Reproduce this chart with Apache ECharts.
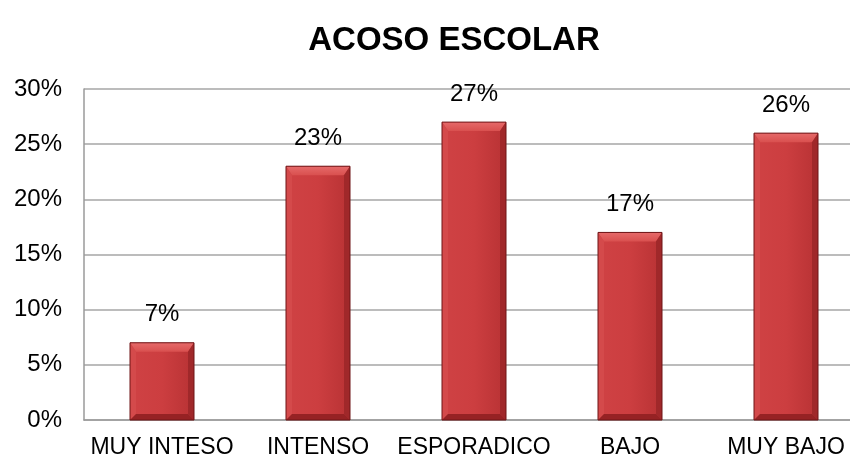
<!DOCTYPE html>
<html><head><meta charset="utf-8">
<script src="https://cdn.jsdelivr.net/npm/echarts@6/dist/echarts.min.js"></script>
<style>html,body{margin:0;padding:0;background:#fff;overflow:hidden;width:850px;height:464px}#c{width:880px;height:464px}</style>
</head><body><div id="c"></div>
<script>
const categories = ["MUY INTESO", "INTENSO", "ESPORADICO", "BAJO", "MUY BAJO"];
const values = [0.07, 0.23, 0.27, 0.17, 0.26];
const yTicks = [0, 0.05, 0.10, 0.15, 0.20, 0.25, 0.30];
const title = "ACOSO ESCOLAR";

const font = "'Liberation Sans', Arial, sans-serif";
const pct = v => Math.round(v * 100) + '%';
const chart = echarts.init(document.getElementById('c'));

function renderBar(params, api) {
  const idx = api.value(0), val = api.value(1);
  const top = api.coord([idx, val]);
  const base = api.coord([idx, 0]);
  const w = 64, b = 9, s = 6;
  const x0 = top[0] - w / 2, x1 = top[0] + w / 2, y0 = top[1], y1 = base[1];
  const children = [
    { type: 'rect', shape: { x: x0, y: y0, width: w, height: y1 - y0 },
      style: { fill: new echarts.graphic.LinearGradient(0, 0, 1, 0, [{ offset: 0, color: '#cf4244' }, { offset: 0.5, color: '#cc3e40' }, { offset: 1, color: '#b83234' }]) } },
    { type: 'polygon', shape: { points: [[x0, y0], [x1, y0], [x1 - s, y0 + b], [x0 + s, y0 + b]] },
      style: { fill: new echarts.graphic.LinearGradient(0, 0, 0, 1, [{ offset: 0, color: '#e66a6a' }, { offset: 1, color: '#d9504f' }]) } },
    { type: 'polygon', shape: { points: [[x0, y0], [x0 + s, y0 + b], [x0 + s, y1 - s], [x0, y1]] },
      style: { fill: '#d44a4b' } },
    { type: 'polygon', shape: { points: [[x1, y0], [x1 - s, y0 + b], [x1 - s, y1 - s], [x1, y1]] },
      style: { fill: '#a0282a' } },
    { type: 'polygon', shape: { points: [[x0, y1], [x0 + s, y1 - s], [x1 - s, y1 - s], [x1, y1]] },
      style: { fill: '#962224' } },
    { type: 'rect', shape: { x: x0, y: y0, width: w, height: y1 - y0 },
      style: { fill: 'none', stroke: '#6e1416', lineWidth: 1 } },
    { type: 'text', x: top[0], y: y0 - 16,
      style: { text: pct(val), fontFamily: font, fontSize: 24, fill: '#000', align: 'center', verticalAlign: 'bottom' } }
  ];
  return { type: 'group', children };
}

chart.setOption({
  animation: false,
  title: { text: title, left: 449, top: 19, textAlign: 'center',
    textStyle: { fontFamily: font, fontSize: 33, fontWeight: 'bold', color: '#000' } },
  grid: { left: 84, top: 89, width: 780, height: 331, containLabel: false },
  xAxis: { type: 'category', data: categories,
    axisLine: { lineStyle: { color: '#9a9a9a', width: 1.5 } },
    axisTick: { show: false },
    axisLabel: { fontFamily: font, fontSize: 23, color: '#000', margin: 16, interval: 0 } },
  yAxis: { type: 'value', min: 0, max: 0.30, interval: 0.05,
    axisLine: { show: true, lineStyle: { color: '#9a9a9a', width: 1.5 } },
    axisTick: { show: false },
    splitLine: { lineStyle: { color: '#a6a6a6', width: 1.5 } },
    axisLabel: { fontFamily: font, fontSize: 24, color: '#000', margin: 22, formatter: pct } },
  series: [{
    type: 'custom', data: values.map((v, i) => [i, v]), renderItem: renderBar,
    encode: { x: 0, y: 1 }, clip: false
  }]
});
</script></body></html>
